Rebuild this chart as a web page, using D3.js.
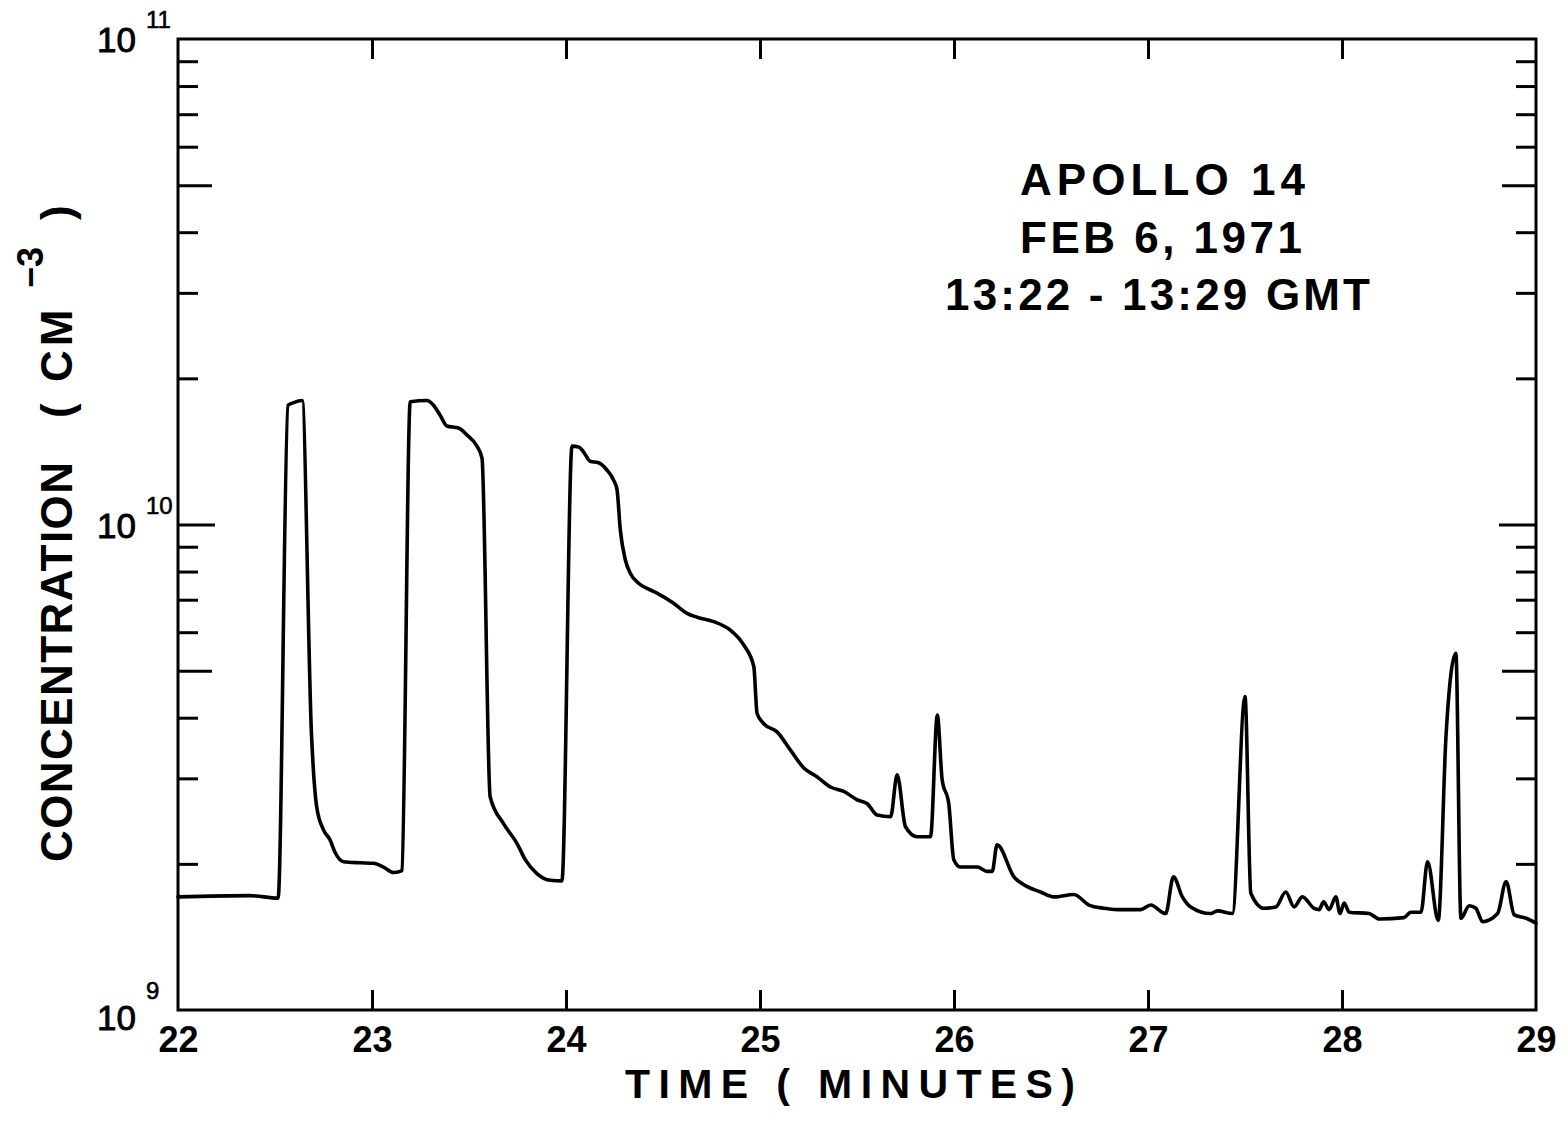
<!DOCTYPE html>
<html><head><meta charset="utf-8">
<script src="https://cdn.jsdelivr.net/npm/d3@7"></script>
<style>
body{margin:0;background:#fff}
svg{display:block;background:#fff}
text{font-family:"Liberation Sans",Arial,sans-serif;fill:#000;font-weight:bold}
text.lbl10{font-weight:normal}
</style></head><body>
<svg id="chart" width="1568" height="1128"></svg>
<script>
// ---- data ----
const time = [22.000,22.371,22.516,22.567,22.593,22.640,22.688,22.715,22.750,22.784,22.810,22.853,22.939,23.007,23.059,23.111,23.145,23.154,23.197,23.283,23.317,23.351,23.386,23.446,23.489,23.541,23.567,23.609,23.678,23.747,23.790,23.850,23.919,23.979,24.031,24.065,24.091,24.125,24.168,24.211,24.245,24.263,24.280,24.306,24.332,24.374,24.426,24.469,24.555,24.624,24.676,24.761,24.847,24.916,24.968,24.985,25.019,25.088,25.157,25.226,25.295,25.363,25.432,25.501,25.553,25.604,25.673,25.707,25.750,25.810,25.879,25.914,25.939,25.973,25.999,26.034,26.120,26.171,26.197,26.222,26.309,26.378,26.446,26.515,26.618,26.696,26.773,26.842,26.962,27.014,27.091,27.131,27.177,27.220,27.323,27.358,27.435,27.500,27.530,27.598,27.659,27.710,27.753,27.796,27.856,27.882,27.905,27.934,27.968,27.990,28.011,28.037,28.140,28.192,28.320,28.355,28.407,28.441,28.496,28.536,28.587,28.613,28.656,28.690,28.725,28.802,28.846,28.888,28.949,29.000];
const concentration = [1.71e9,1.72e9,1.70e9,1.76e10,1.78e10,1.80e10,3.7e9,2.62e9,2.35e9,2.24e9,2.11e9,2.02e9,2.01e9,2.005e9,1.97e9,1.92e9,1.93e9,1.94e9,1.79e10,1.80e10,1.76e10,1.68e10,1.595e10,1.58e10,1.53e10,1.45e10,1.37e10,2.75e9,2.42e9,2.205e9,2.04e9,1.91e9,1.85e9,1.845e9,1.45e10,1.445e10,1.41e10,1.35e10,1.34e10,1.295e10,1.235e10,1.18e10,9.74e9,8.45e9,7.93e9,7.57e9,7.36e9,7.22e9,6.88e9,6.56e9,6.44e9,6.31e9,6.06e9,5.65e9,5.10e9,4.08e9,3.89e9,3.74e9,3.43e9,3.15e9,3.02e9,2.88e9,2.82e9,2.71e9,2.66e9,2.52e9,2.50e9,3.05e9,2.385e9,2.275e9,2.275e9,4.05e9,2.98e9,2.66e9,2.04e9,1.97e9,1.97e9,1.93e9,1.93e9,2.19e9,1.88e9,1.795e9,1.75e9,1.71e9,1.73e9,1.645e9,1.62e9,1.61e9,1.61e9,1.645e9,1.58e9,1.88e9,1.71e9,1.63e9,1.58e9,1.60e9,1.58e9,4.42e9,1.74e9,1.62e9,1.63e9,1.75e9,1.63e9,1.71e9,1.62e9,1.61e9,1.67e9,1.61e9,1.71e9,1.58e9,1.66e9,1.59e9,1.58e9,1.54e9,1.55e9,1.59e9,1.59e9,2.02e9,1.53e9,3.66e9,5.43e9,1.545e9,1.64e9,1.62e9,1.52e9,1.58e9,1.84e9,1.57e9,1.545e9,1.51e9];
const xTickValues = [22,23,24,25,26,27,28,29];
const xTickLabels = ["22","23","24","25","26","27","28","29"];
const yMajorTicks = [1e9,1e10,1e11];
const yMajorBase = ["10","10","10"];
const yMajorExp = ["9","10","11"];
const yMinorTicks = [2e9,3e9,4e9,6e9,7e9,8e9,9e9,2e10,3e10,4e10,6e10,7e10,8e10,9e10];
const yMidTicks = [5e9,5e10];
const annotationLines = ["APOLLO  14","FEB  6, 1971","13:22 - 13:29 GMT"];
const xAxisTitle = "TIME  ( MINUTES)";
const yAxisTitle = "CONCENTRATION";
const yAxisUnit = "CM";
const yAxisUnitExp = "\u22123";

// ---- layout ----
const L = 178, R = 1536, T = 39, B = 1010;
const svg = d3.select("#chart");
const x = d3.scaleLinear().domain([22,29]).range([L,R]);
const y = d3.scaleLog().domain([1e9,1e11]).range([B,T]);
const SW = 3;

function styleAxis(g){
  g.select(".domain").remove();
  g.attr("font-family",null).attr("font-size",null);
  g.selectAll(".tick line").attr("stroke","#000").attr("stroke-width",SW);
}

// bottom axis with labels
const gB = svg.append("g").attr("transform",`translate(0,${B})`)
  .call(d3.axisBottom(x).tickValues(xTickValues).tickFormat((d,i)=>xTickLabels[i])
        .tickSizeInner(-20).tickSizeOuter(0).tickPadding(16));
styleAxis(gB);
gB.selectAll(".tick text").attr("font-size",36).attr("fill","#000");
gB.selectAll(".tick").filter(d=>d===22||d===29).select("line").remove();

// top axis ticks
const gT = svg.append("g").attr("transform",`translate(0,${T})`)
  .call(d3.axisTop(x).tickValues(xTickValues.slice(1,-1)).tickFormat("").tickSizeInner(-20).tickSizeOuter(0));
styleAxis(gT);

// y ticks, left and right
function yTicks(vals,len){
  const gl = svg.append("g").attr("transform",`translate(${L},0)`)
    .call(d3.axisLeft(y).tickValues(vals).tickFormat("").tickSizeInner(-len).tickSizeOuter(0));
  styleAxis(gl);
  const gr = svg.append("g").attr("transform",`translate(${R},0)`)
    .call(d3.axisRight(y).tickValues(vals).tickFormat("").tickSizeInner(-len).tickSizeOuter(0));
  styleAxis(gr);
}
yTicks([1e10],37);
yTicks(yMinorTicks,20);
yTicks(yMidTicks,34);

// y major labels 10^n
const yl = svg.append("g");
yMajorTicks.forEach((v,i)=>{
  const yy = y(v);
  const off = v===1e9 ? 20 : 13;
  yl.append("text").attr("class","lbl10").attr("x",136).attr("y",yy+off).attr("text-anchor","end")
    .attr("font-size",35).attr("stroke","#000").attr("stroke-width",0.9).text(yMajorBase[i]);
  yl.append("text").attr("class","lbl10").attr("x",146).attr("y",yy-11).attr("text-anchor","start")
    .attr("font-size",24).attr("stroke","#000").attr("stroke-width",0.6).text(yMajorExp[i]);
});

// frame
svg.append("rect").attr("x",L).attr("y",T).attr("width",R-L).attr("height",B-T)
  .attr("fill","none").attr("stroke","#000").attr("stroke-width",SW);

// data line
const pts = time.map((t,i)=>({t, v: concentration[i]}));
svg.append("path").datum(pts)
  .attr("fill","none").attr("stroke","#000").attr("stroke-width",3.6)
  .attr("stroke-linejoin","round").attr("stroke-linecap","round")
  .attr("d", d3.line().curve(d3.curveMonotoneX).x(d=>x(d.t)).y(d=>y(d.v)));

// x axis title
svg.append("text").attr("x",625).attr("y",1098).attr("font-size",41)
  .attr("textLength",450).attr("lengthAdjust","spacing").text(xAxisTitle);

// y axis title (rotated)
const yt = svg.append("text").attr("transform","rotate(-90)").attr("font-size",44);
yt.append("tspan").attr("x",-862).attr("y",72).attr("textLength",400).attr("lengthAdjust","spacing").text(yAxisTitle);
yt.append("tspan").attr("x",-418).attr("y",72).text("(");
yt.append("tspan").attr("x",-382).attr("y",72).attr("letter-spacing",4).text(yAxisUnit);
yt.append("tspan").attr("x",-288).attr("y",43).attr("font-size",36).text(yAxisUnitExp);
yt.append("tspan").attr("x",-220).attr("y",72).text(")");

// annotation
const ann = [{x:1020,y:195,len:285},{x:1020,y:253,len:282},{x:945,y:310,len:425}];
annotationLines.forEach((s,i)=>{
  svg.append("text").attr("x",ann[i].x).attr("y",ann[i].y).attr("font-size",44)
    .attr("textLength",ann[i].len).attr("lengthAdjust","spacing").text(s);
});
</script>
</body></html>
